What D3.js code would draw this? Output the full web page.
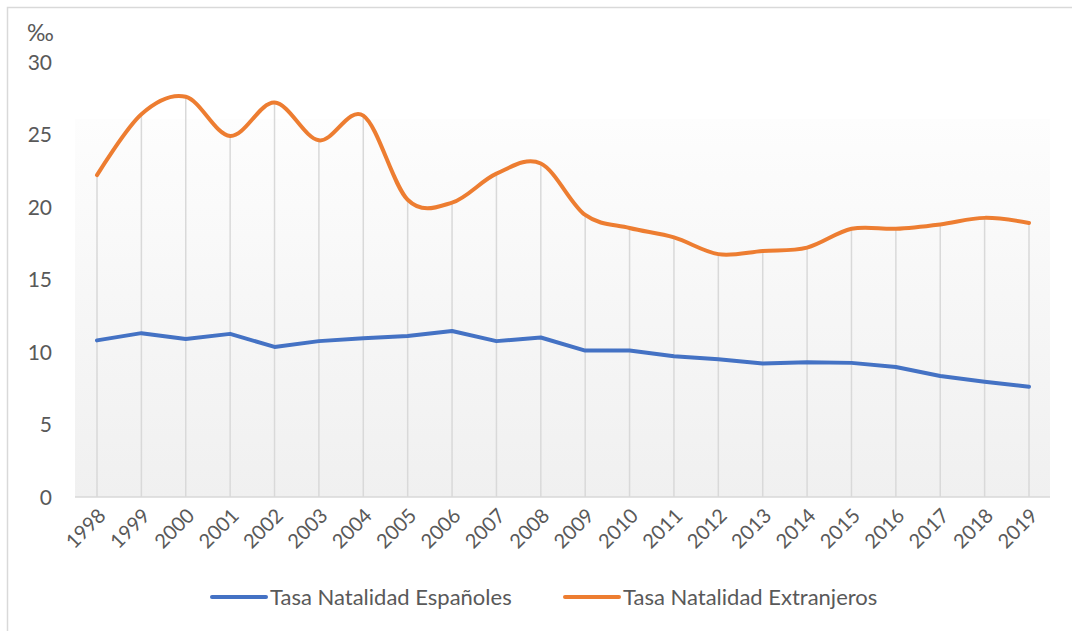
<!DOCTYPE html>
<html><head><meta charset="utf-8">
<script src="https://cdn.jsdelivr.net/npm/d3@7"></script>
<style>
html,body{margin:0;padding:0;background:#fff;}
text{font-family:Lato,"Open Sans",sans-serif;fill:#595959;}
</style></head>
<body><svg id="c" width="1072" height="631"></svg>
<script>
const years = ["1998","1999","2000","2001","2002","2003","2004","2005","2006","2007","2008","2009","2010","2011","2012","2013","2014","2015","2016","2017","2018","2019"];
const espanoles = [10.8,11.3,10.9,11.25,10.35,10.75,10.95,11.1,11.45,10.75,11.0,10.1,10.1,9.7,9.5,9.2,9.3,9.25,8.97,8.35,7.95,7.6];
const extranjeros = [22.2,26.4,27.6,24.9,27.2,24.6,26.3,20.5,20.3,22.3,23.0,19.45,18.55,17.9,16.75,16.97,17.2,18.5,18.5,18.8,19.25,18.9];
const yTicks = [0,5,10,15,20,25,30];
const seriesNames = ["Tasa Natalidad Españoles","Tasa Natalidad Extranjeros"];
const colors = ["#4472C4","#ED7D31"];

const svg = d3.select("#c");
svg.append("rect").attr("x",7.5).attr("y",7.5).attr("width",1200).attr("height",800)
  .attr("fill","none").attr("stroke","#d9d9d9").attr("stroke-width",1.5);

const x = d3.scalePoint().domain(years).range([97,1029]);
const y = d3.scaleLinear().domain([0,30]).range([497,62]);

const defs = svg.append("defs");
const g = defs.append("linearGradient").attr("id","bg").attr("x1",0).attr("y1",0).attr("x2",0).attr("y2",1);
g.append("stop").attr("offset","0%").attr("stop-color","#fdfdfd");
g.append("stop").attr("offset","100%").attr("stop-color","#f0f0f0");
svg.append("rect").attr("x",75).attr("y",119).attr("width",975).attr("height",497-119).attr("fill","url(#bg)");

svg.append("g").selectAll("line").data(years).join("line")
  .attr("x1",d=>x(d)).attr("x2",d=>x(d))
  .attr("y1",(d,i)=>y(extranjeros[i])).attr("y2",y(0))
  .attr("stroke","#d9d9d9").attr("stroke-width",1.5);

svg.append("line").attr("x1",75).attr("x2",1050).attr("y1",y(0)).attr("y2",y(0))
  .attr("stroke","#d9d9d9").attr("stroke-width",1.5);

svg.append("g").selectAll("text").data(yTicks).join("text")
  .attr("x",52).attr("y",d=>y(d)).attr("dy","0.36em").attr("text-anchor","end")
  .style("font-size","21px").text(d=>d);
svg.append("text").attr("x",27).attr("y",41).style("font-size","23px").text("‰");

svg.append("g").selectAll("text").data(years).join("text")
  .attr("transform",d=>`translate(${x(d)+5},${512}) rotate(-45)`)
  .attr("text-anchor","end").attr("dy","0.35em")
  .style("font-size","20px").text(d=>d);

svg.append("path").datum(espanoles)
  .attr("d",d3.line().x((d,i)=>x(years[i])).y(d=>y(d)))
  .attr("fill","none").attr("stroke",colors[0]).attr("stroke-width",4).attr("stroke-linecap","round").attr("stroke-linejoin","round");
svg.append("path").datum(extranjeros)
  .attr("d",d3.line().x((d,i)=>x(years[i])).y(d=>y(d)).curve(d3.curveCardinal.tension(0)))
  .attr("fill","none").attr("stroke",colors[1]).attr("stroke-width",4).attr("stroke-linecap","round").attr("stroke-linejoin","round");

const legX = [212,565];
seriesNames.forEach((n,i)=>{
  svg.append("line").attr("x1",legX[i]).attr("x2",legX[i]+54).attr("y1",597).attr("y2",597)
    .attr("stroke",colors[i]).attr("stroke-width",4).attr("stroke-linecap","round");
  svg.append("text").attr("x",legX[i]+58).attr("y",597).attr("dy","0.35em")
    .style("font-size","22px").text(n);
});
</script></body></html>
